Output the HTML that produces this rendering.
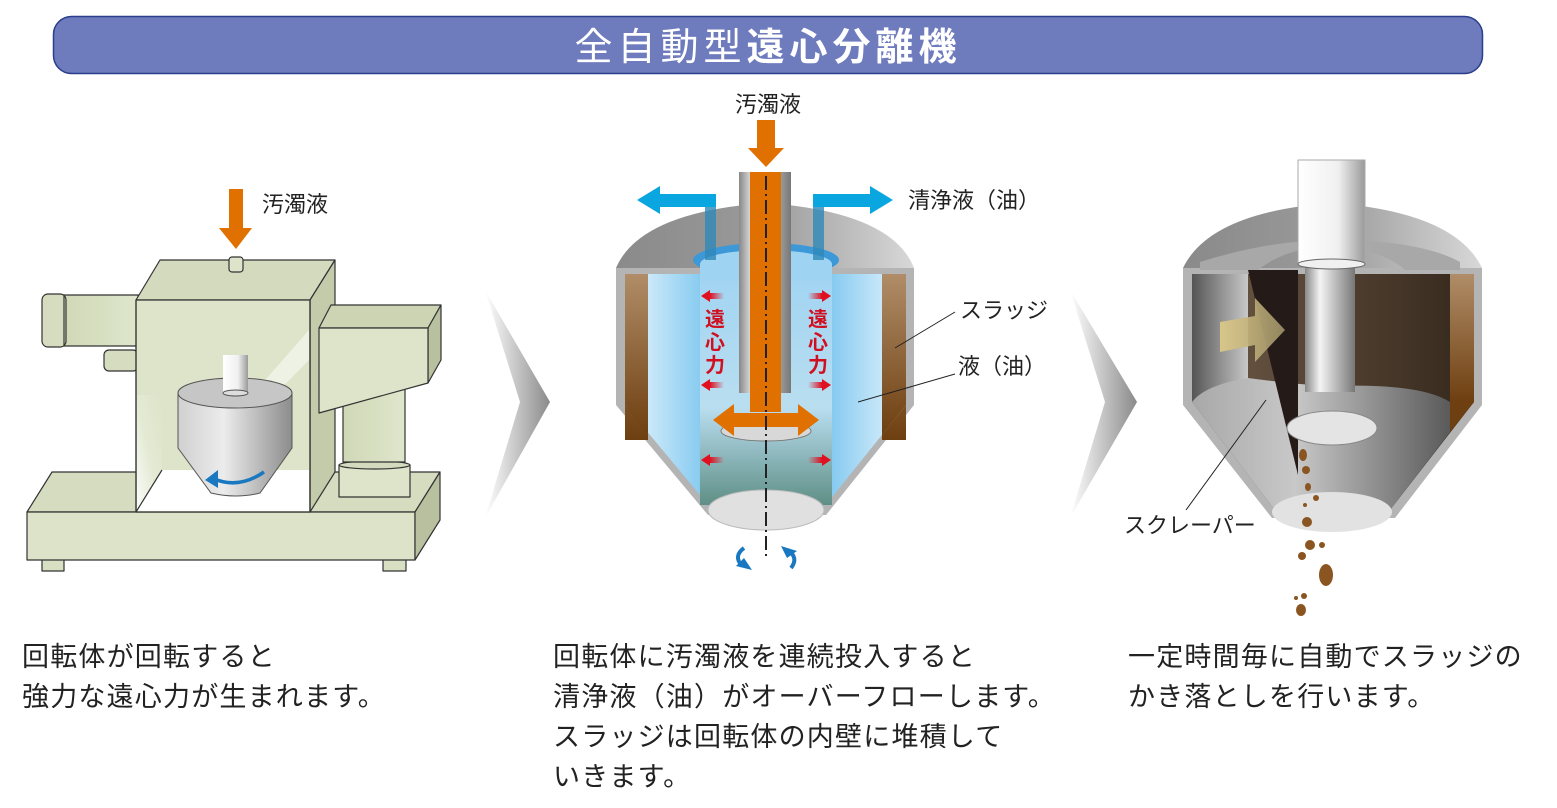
<!DOCTYPE html>
<html><head><meta charset="utf-8"><style>
html,body{margin:0;padding:0;background:#fff;}
svg{display:block;}
text{font-family:"Liberation Sans","Noto Sans CJK JP",sans-serif;}
</style></head><body>
<svg width="1557" height="808" viewBox="0 0 1557 808" xmlns="http://www.w3.org/2000/svg">
<defs>
<linearGradient id="chev" x1="0" x2="1"><stop offset="0" stop-color="#fff"/><stop offset="1" stop-color="#8a8a8a"/></linearGradient>
<linearGradient id="coneG" x1="0" x2="1"><stop offset="0" stop-color="#d0d0d0"/><stop offset="0.4" stop-color="#ececec"/><stop offset="1" stop-color="#8c8c8c"/></linearGradient>
<linearGradient id="dome" x1="0" x2="1"><stop offset="0" stop-color="#8a8a8a"/><stop offset="0.5" stop-color="#9a9a9a"/><stop offset="1" stop-color="#d8d8d8"/></linearGradient>
<linearGradient id="brown" x1="0" x2="0" y1="0" y2="1"><stop offset="0" stop-color="#b08d68"/><stop offset="1" stop-color="#6e3f10"/></linearGradient>
<linearGradient id="liq" x1="0" x2="1"><stop offset="0" stop-color="#e8f5fd"/><stop offset="1" stop-color="#7cc6ef"/></linearGradient>
<linearGradient id="liq2" x1="0" x2="1"><stop offset="0" stop-color="#7cc6ef"/><stop offset="1" stop-color="#e8f5fd"/></linearGradient>
<linearGradient id="inner" x1="0" x2="0" y1="0" y2="1"><stop offset="0" stop-color="#9fd3f2"/><stop offset="0.6" stop-color="#b9def0"/><stop offset="1" stop-color="#5f8f86"/></linearGradient>
<linearGradient id="pipe" x1="0" x2="1"><stop offset="0" stop-color="#888"/><stop offset="0.3" stop-color="#f4f4f4"/><stop offset="1" stop-color="#777"/></linearGradient>
<linearGradient id="shaftW" x1="0" x2="1"><stop offset="0" stop-color="#fff"/><stop offset="0.6" stop-color="#f0f0f0"/><stop offset="1" stop-color="#9a9a9a"/></linearGradient>
<linearGradient id="darkback" x1="0" x2="1"><stop offset="0" stop-color="#6e5a48"/><stop offset="1" stop-color="#35281c"/></linearGradient>
<linearGradient id="leftin" x1="0" x2="1"><stop offset="0" stop-color="#555"/><stop offset="1" stop-color="#c8c8c8"/></linearGradient>
<linearGradient id="floorG" x1="0" x2="1"><stop offset="0" stop-color="#a8a8a8"/><stop offset="0.4" stop-color="#c8c8c8"/><stop offset="1" stop-color="#5a5a5a"/></linearGradient>
<linearGradient id="tanA" x1="0" x2="1"><stop offset="0" stop-color="#e0cc88"/><stop offset="1" stop-color="#9e9268"/></linearGradient>
<linearGradient id="green" x1="0" x2="1"><stop offset="0" stop-color="#cfd8b6"/><stop offset="1" stop-color="#dfe6cc"/></linearGradient>
<linearGradient id="redL" x1="0" x2="1"><stop offset="0" stop-color="#e01020"/><stop offset="1" stop-color="#e01020" stop-opacity="0"/></linearGradient>
<linearGradient id="redR" x1="1" x2="0"><stop offset="0" stop-color="#e01020"/><stop offset="1" stop-color="#e01020" stop-opacity="0"/></linearGradient>
<linearGradient id="winW" x1="0" x2="1" y1="1" y2="0"><stop offset="0" stop-color="#fff" stop-opacity="0.9"/><stop offset="0.5" stop-color="#fff" stop-opacity="0.2"/><stop offset="1" stop-color="#fff" stop-opacity="0"/></linearGradient>
</defs>

<rect x="53.5" y="16.5" width="1429" height="57" rx="18" fill="#6e7bbd" stroke="#2a3e8c" stroke-width="1.5"/>
<text x="768" y="60" font-size="38" letter-spacing="5" fill="#fff" text-anchor="middle">全自動型<tspan font-weight="bold">遠心分離機</tspan></text>

<polygon points="485,290 550,402 485,518 520,402" fill="url(#chev)"/>
<polygon points="1070,290 1137,402 1070,518 1105,402" fill="url(#chev)"/>

<!-- LEFT MACHINE -->
<g stroke="#333" stroke-width="1.2" stroke-linejoin="round">
<rect x="42" y="556" width="22" height="15" fill="#d8dfc3"/>
<rect x="383" y="556" width="23" height="15" fill="#d8dfc3"/>
<polygon points="27,512 52,472 440,472 415,512" fill="#d6dcc0"/>
<rect x="27" y="512" width="388" height="48" fill="#dde3c9"/>
<polygon points="415,512 440,472 440,520 415,560" fill="#b8c0a0"/>
<rect x="62" y="295" width="76" height="51" fill="url(#green)"/>
<rect x="42" y="294" width="24" height="53" rx="6" fill="#d6dcc0"/>
<line x1="64" y1="296" x2="64" y2="345"/>
<rect x="104" y="350" width="34" height="21" rx="5" fill="#d6dcc0"/>
<polygon points="136,300 160,260 335,260 310,300" fill="#d3dabd"/>
<polygon points="310,300 335,260 335,472 310,512" fill="#c3cbab"/>
<rect x="136" y="300" width="174" height="212" fill="#dde4c9"/>
</g>
<polygon points="137,511 162,470 309,470 309,511" fill="#fff"/>
<rect x="137" y="395" width="25" height="116" fill="url(#winW)"/>
<polygon points="230,420 309,330 309,360 250,420" fill="#fff" opacity="0.5"/>
<g stroke="#555" stroke-width="1">
<path d="M178,393 L178,448 L211,493 Q236,499 260,493 L292,448 L292,393 Z" fill="url(#coneG)"/>
<ellipse cx="235" cy="393" rx="57" ry="15" fill="#c6c6c6"/>
<rect x="223" y="355" width="25" height="38" fill="url(#shaftW)" stroke="none"/>
<ellipse cx="235.5" cy="393" rx="12.5" ry="3" fill="#ddd"/>
</g>
<path d="M212,478 Q238,490 264,472" fill="none" stroke="#1a78c0" stroke-width="3.5"/>
<polygon points="205,480 218,470 218,488" fill="#1a78c0"/>
<g stroke="#333" stroke-width="1.2" fill="none"><line x1="136" y1="300" x2="136" y2="512"/><line x1="310" y1="300" x2="310" y2="512"/><line x1="136" y1="512" x2="162" y2="470"/></g>
<g stroke="#333" stroke-width="1.2" stroke-linejoin="round">
<rect x="339" y="465" width="71" height="32" fill="#dde4c9"/>
<ellipse cx="374.5" cy="465" rx="35.5" ry="4" fill="#d3dabd"/>
<rect x="343" y="380" width="62" height="82" fill="url(#green)"/>
<polygon points="319,328 331,305 441,305 428,328" fill="#ccd4b4"/>
<polygon points="428,328 441,305 441,360 428,383" fill="#b8c0a0"/>
<polygon points="319,328 428,328 428,383 319,413" fill="#dde4c9"/>
<rect x="229" y="257" width="14" height="15" rx="3" fill="#dde4c9"/>
</g>
<rect x="229" y="189" width="14" height="40" fill="#e07000"/>
<polygon points="219,228 252,228 236,249" fill="#e07000"/>
<text x="262" y="212" font-size="22" fill="#222">汚濁液</text>

<!-- MIDDLE -->
<text x="735" y="112" font-size="22" fill="#222">汚濁液</text>
<rect x="757" y="120" width="18" height="29" fill="#e07000"/>
<polygon points="748,148 784,148 766,167" fill="#e07000"/>
<path d="M616,268 Q640,212 766,203 Q892,212 914,268 Z" fill="url(#dome)"/>
<path d="M616,268 L914,268 L914,405 L826,515 L708,515 L616,405 Z" fill="#b4b4b4"/>
<rect x="625" y="274" width="23" height="166" fill="url(#brown)"/>
<rect x="882" y="274" width="24" height="166" fill="url(#brown)"/>
<path d="M625,274 L700,274 L700,500 L710,507 L625,405 Z" fill="url(#liq)"/>
<path d="M625,405 L648,435 L648,274 L625,274Z" fill="url(#brown)"/>
<path d="M832,274 L906,274 L906,405 L824,507 L832,500 Z" fill="url(#liq2)"/>
<path d="M906,405 L882,435 L882,274 L906,274Z" fill="url(#brown)"/>
<rect x="700" y="262" width="132" height="243" fill="url(#inner)"/>
<ellipse cx="766" cy="260" rx="73" ry="17" fill="#3d98d8"/>
<ellipse cx="766" cy="264" rx="66" ry="14" fill="#9fd3f2"/>
<rect x="700" y="264" width="132" height="15" fill="#9fd3f2"/>
<ellipse cx="766" cy="510" rx="58" ry="20" fill="#e0e0e0" stroke="#bbb"/>
<rect x="705" y="205" width="11" height="55" fill="#2e88b8" opacity="0.8"/>
<rect x="813" y="205" width="11" height="55" fill="#2e88b8" opacity="0.8"/>
<rect x="655" y="194" width="61" height="13" fill="#0aa6e0"/>
<polygon points="637,200 660,186 660,214" fill="#0aa6e0"/>
<rect x="813" y="194" width="62" height="13" fill="#0aa6e0"/>
<polygon points="893,200 870,186 870,214" fill="#0aa6e0"/>
<rect x="739" y="172" width="52" height="221" fill="url(#pipe)"/>
<rect x="750" y="172" width="31" height="240" fill="#e07000"/>
<ellipse cx="766" cy="431" rx="45" ry="10" fill="#d8d8d8" stroke="#777"/>
<rect x="730" y="413" width="72" height="14" fill="#e07000"/>
<polygon points="713,420 734,404 734,436" fill="#e07000"/>
<polygon points="819,420 798,404 798,436" fill="#e07000"/>
<line x1="766" y1="176" x2="766" y2="560" stroke="#222" stroke-width="2" stroke-dasharray="14,4,2,4"/>
<g>
<polygon points="701,296 710,290 710,302" fill="#e01020"/><rect x="710" y="293" width="14" height="6" fill="url(#redL)"/>
<polygon points="701,385 710,379 710,391" fill="#e01020"/><rect x="710" y="382" width="14" height="6" fill="url(#redL)"/>
<polygon points="701,460 710,454 710,466" fill="#e01020"/><rect x="710" y="457" width="14" height="6" fill="url(#redL)"/>
<polygon points="831,296 822,290 822,302" fill="#e01020"/><rect x="808" y="293" width="14" height="6" fill="url(#redR)"/>
<polygon points="831,385 822,379 822,391" fill="#e01020"/><rect x="808" y="382" width="14" height="6" fill="url(#redR)"/>
<polygon points="831,460 822,454 822,466" fill="#e01020"/><rect x="808" y="457" width="14" height="6" fill="url(#redR)"/>
</g>
<g font-size="20" font-weight="bold" fill="#d01020" text-anchor="middle">
<text x="715" y="326">遠</text><text x="715" y="349">心</text><text x="715" y="372">力</text>
<text x="818" y="326">遠</text><text x="818" y="349">心</text><text x="818" y="372">力</text>
</g>
<path d="M744,548 Q733,556 742,566" fill="none" stroke="#1a78c0" stroke-width="4"/>
<polygon points="736,566 752,570 744,558" fill="#1a78c0"/>
<path d="M788,550 Q799,558 791,568" fill="none" stroke="#1a78c0" stroke-width="4"/>
<polygon points="781,546 797,551 787,558" fill="#1a78c0"/>
<text x="908" y="208" font-size="22" fill="#222">清浄液（油）</text>
<text x="960" y="318" font-size="22" fill="#222">スラッジ</text>
<text x="958" y="374" font-size="22" fill="#222">液（油）</text>
<line x1="895" y1="348" x2="955" y2="312" stroke="#222" stroke-width="1"/>
<line x1="858" y1="402" x2="955" y2="374" stroke="#222" stroke-width="1"/>

<!-- RIGHT -->
<path d="M1183,268 Q1210,212 1332,203 Q1455,212 1482,268 Z" fill="url(#dome)"/>
<path d="M1183,268 L1482,268 L1482,405 L1395,518 L1272,518 L1183,405 Z" fill="#b4b4b4"/>
<path d="M1192,274 L1474,274 L1474,402 L1390,510 L1275,510 L1192,402 Z" fill="url(#darkback)"/>
<rect x="1450" y="274" width="24" height="128" fill="url(#brown)"/>
<polygon points="1450,402 1474,402 1450,432" fill="#6e3f10"/>
<path d="M1192,274 L1248,274 L1248,390 L1192,400 Z" fill="url(#leftin)"/>
<path d="M1192,402 Q1205,385 1248,378 Q1300,385 1332,386 Q1420,383 1450,402 L1450,432 L1390,510 L1275,510 L1192,402 Z" fill="url(#floorG)"/>
<path d="M1200,262 Q1270,240 1332,240 Q1420,240 1460,262 L1460,270 L1405,270 Q1380,248 1332,246 Q1285,248 1258,270 L1200,270 Z" fill="#a8a8a8"/>
<rect x="1305" y="265" width="50" height="127" fill="url(#pipe)"/>
<polygon points="1248,270 1298,270 1298,475" fill="#241a18"/>
<polygon points="1220,322 1255,316 1255,298 1285,330 1255,362 1255,345 1220,352" fill="url(#tanA)" opacity="0.9"/>
<ellipse cx="1332" cy="428" rx="45" ry="17" fill="#e4e4e4" stroke="#888"/>
<ellipse cx="1332" cy="512" rx="60" ry="20" fill="#e2e2e2"/>
<rect x="1298" y="160" width="67" height="104" fill="url(#shaftW)" stroke="#aaa"/>
<ellipse cx="1331.5" cy="264" rx="33.5" ry="5" fill="#f0f0f0" stroke="#666"/>
<g fill="#8a5520">
<ellipse cx="1303" cy="455" rx="4" ry="6"/><ellipse cx="1306" cy="470" rx="4" ry="4"/><ellipse cx="1308" cy="487" rx="3" ry="4"/><ellipse cx="1316" cy="498" rx="3" ry="3"/>
<ellipse cx="1305" cy="505" rx="2" ry="2"/><ellipse cx="1307" cy="522" rx="5" ry="5"/><ellipse cx="1310" cy="545" rx="5" ry="5"/>
<ellipse cx="1322" cy="545" rx="3" ry="3"/><ellipse cx="1302" cy="556" rx="4" ry="4"/><ellipse cx="1326" cy="575" rx="7" ry="11"/>
<ellipse cx="1304" cy="596" rx="3" ry="3"/><ellipse cx="1296" cy="598" rx="2" ry="2"/><ellipse cx="1301" cy="610" rx="5" ry="6"/>
</g>
<line x1="1186" y1="510" x2="1266" y2="400" stroke="#222" stroke-width="1"/>
<text x="1124" y="533" font-size="22" fill="#222">スクレーパー</text>

<g font-size="27" letter-spacing="1.2" fill="#222">
<text x="22" y="666">回転体が回転すると</text>
<text x="22" y="706">強力な遠心力が生まれます。</text>
<text x="553" y="666">回転体に汚濁液を連続投入すると</text>
<text x="553" y="706">清浄液（油）がオーバーフローします。</text>
<text x="553" y="746">スラッジは回転体の内壁に堆積して</text>
<text x="553" y="786">いきます。</text>
<text x="1128" y="666">一定時間毎に自動でスラッジの</text>
<text x="1128" y="706">かき落としを行います。</text>
</g>
</svg>
</body></html>
